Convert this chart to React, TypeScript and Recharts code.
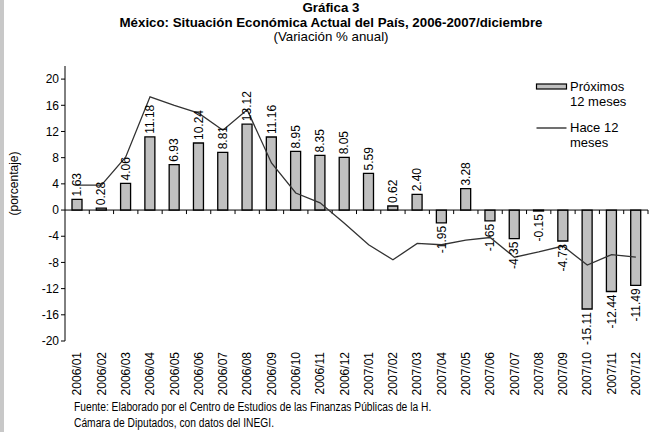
import { ComposedChart, Bar, Line, XAxis, YAxis, ReferenceLine, LabelList, Legend } from 'recharts';

const months = [
  '2006/01', '2006/02', '2006/03', '2006/04', '2006/05', '2006/06',
  '2006/07', '2006/08', '2006/09', '2006/10', '2006/11', '2006/12',
  '2007/01', '2007/02', '2007/03', '2007/04', '2007/05', '2007/06',
  '2007/07', '2007/08', '2007/09', '2007/10', '2007/11', '2007/12',
];

// Próximos 12 meses (bars)
const proximos = [
  1.63, 0.28, 4.06, 11.18, 6.93, 10.24, 8.81, 13.12, 11.16, 8.95, 8.35, 8.05,
  5.59, 0.62, 2.4, -1.95, 3.28, -1.65, -4.35, -0.15, -4.73, -15.11, -12.44, -11.49,
];

// Hace 12 meses (line)
const hace = [
  3.8, 3.8, 8.1, 17.3, 16.0, 14.8, 12.2, 15.3, 7.2, 2.6, 1.1, -2.0,
  -5.3, -7.6, -5.1, -5.3, -4.6, -4.2, -7.2, -6.4, -5.5, -8.4, -6.8, -7.2,
];

const yTicks = [-20, -16, -12, -8, -4, 0, 4, 8, 12, 16, 20];

const data = months.map((m, i) => ({ month: m, proximos: proximos[i], hace: hace[i] }));

const FONT = '"Liberation Sans", Arial, Helvetica, sans-serif';

function MonthTick(props: any) {
  const { x, y, payload } = props;
  const ty = y + 3;
  return (
    <text x={x} y={ty} transform={`rotate(-90 ${x} ${ty})`} textAnchor="end" dy="0.35em"
      fontSize={12} fill="#000" fontFamily={FONT}>
      {payload.value}
    </text>
  );
}

function BarValue(props: any) {
  const { x, y, width, height, value } = props;
  const cx = x + width / 2;
  const top = Math.min(y, y + height);
  const bottom = Math.max(y, y + height);
  const neg = value < 0;
  const py = neg ? bottom + 3 : top - 3;
  return (
    <text x={cx} y={py} transform={`rotate(-90 ${cx} ${py})`} textAnchor={neg ? 'end' : 'start'}
      dy="0.35em" fontSize={12} fill="#000" fontFamily={FONT}>
      {Number(value).toFixed(2)}
    </text>
  );
}

// zero line with small tick marks between categories
function ZeroAxis(props: any) {
  const { x1, y1, x2 } = props;
  const n = months.length;
  const step = (x2 - x1) / n;
  const marks = [];
  for (let i = 1; i <= n; i++) {
    const tx = x1 + i * step;
    marks.push(<line key={i} x1={tx} x2={tx} y1={y1} y2={y1 + 4} stroke="#000" strokeWidth={1} />);
  }
  return (
    <g>
      <line x1={x1} x2={x2} y1={y1} y2={y1} stroke="#000" strokeWidth={1} />
      {marks}
    </g>
  );
}

function LegendBox() {
  const txt: any = { fontFamily: FONT, fontSize: 13, color: '#000', lineHeight: '15px' };
  return (
    <div style={{ width: 115 }}>
      <div style={{ display: 'flex', alignItems: 'flex-start' }}>
        <svg width={35} height={15} style={{ flex: 'none' }}>
          <rect x={1.5} y={5} width={30} height={5} fill="#c0c0c0" stroke="#000" strokeWidth={1.2} />
        </svg>
        <div style={txt}>Próximos<br />12 meses</div>
      </div>
      <div style={{ display: 'flex', alignItems: 'flex-start', marginTop: 11 }}>
        <svg width={35} height={15} style={{ flex: 'none' }}>
          <line x1={1.5} x2={31.5} y1={8} y2={8} stroke="#222" strokeWidth={1.3} />
        </svg>
        <div style={txt}>Hace 12<br />meses</div>
      </div>
    </div>
  );
}

function YLabel(props: any) {
  const vb = props.viewBox || { x: 0, y: 66, height: 275 };
  const lx = 14;
  const ly = vb.y + vb.height / 2 - 20;
  return (
    <text x={lx} y={ly} transform={`rotate(-90 ${lx} ${ly})`} textAnchor="middle" dy="0.35em"
      fontSize={12} fill="#000" fontFamily={FONT}>
      (porcentaje)
    </text>
  );
}

export default function App() {
  return (
    <div style={{ position: 'absolute', left: 0, top: 0, width: 650, height: 432, background: '#fff', fontFamily: FONT, overflow: 'hidden' }}>
      <div style={{ position: 'absolute', left: 0, top: 0, width: 4, height: 432, background: '#c8c8c8' }} />
      <div style={{ position: 'absolute', left: 0, top: 1, width: 650, textAlign: 'center', fontSize: 13.3, lineHeight: '14.5px', color: '#000' }}>
        <div style={{ fontWeight: 'bold', marginLeft: 12 }}>Gráfica 3</div>
        <div style={{ fontWeight: 'bold', marginLeft: 12 }}>México: Situación Económica Actual del País, 2006-2007/diciembre</div>
        <div style={{ marginLeft: 12 }}>(Variación % anual)</div>
      </div>
      <ComposedChart width={650} height={432} data={data}
        margin={{ top: 66, right: 2, left: 0, bottom: 0 }}
        style={{ position: 'absolute', left: 0, top: 0 }}>
        <XAxis dataKey="month" interval={0} axisLine={false} tickLine={false} height={91} tick={<MonthTick />} />
        <YAxis width={65} domain={[-20, 22]} ticks={yTicks} interval={0} allowDataOverflow
          axisLine={{ stroke: '#000' }} tickLine={{ stroke: '#000' }} tickSize={4}
          tick={{ fontSize: 12, fill: '#000', fontFamily: FONT }}
          label={<YLabel />} />
        <ReferenceLine y={0} shape={<ZeroAxis />} />
        <Legend layout="vertical" align="center" verticalAlign="middle" content={<LegendBox />}
          wrapperStyle={{ position: 'absolute', left: 535, top: 79, width: 115 }} />
        <Bar dataKey="proximos" name="Próximos 12 meses" barSize={10} fill="#c0c0c0" stroke="#000"
          strokeWidth={1.3} isAnimationActive={false}>
          <LabelList dataKey="proximos" content={<BarValue />} />
        </Bar>
        <Line dataKey="hace" name="Hace 12 meses" type="linear" stroke="#333" strokeWidth={1.3}
          dot={false} activeDot={false} isAnimationActive={false} />
      </ComposedChart>
      <div style={{ position: 'absolute', left: 74, top: 399, fontSize: 12.5, lineHeight: '16px', color: '#000',
        whiteSpace: 'nowrap', transform: 'scaleX(0.82)', transformOrigin: '0 0' }}>
        Fuente: Elaborado por el Centro de Estudios de las Finanzas Públicas de la H.<br />
        Cámara de Diputados, con datos del INEGI.
      </div>
    </div>
  );
}
